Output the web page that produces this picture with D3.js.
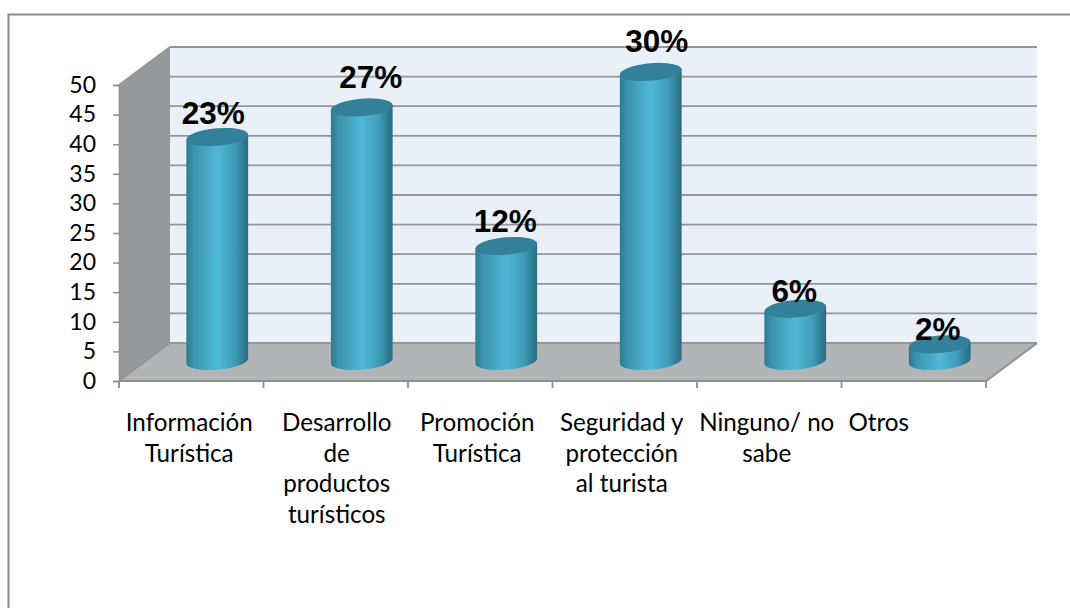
<!DOCTYPE html>
<html><head><meta charset="utf-8">
<script src="https://cdnjs.cloudflare.com/ajax/libs/d3/7.8.5/d3.min.js"></script>
<style>html,body{margin:0;padding:0;background:#fff}svg{display:block}</style>
</head><body><svg id="c" width="1070" height="608"></svg>
<script>
const categories = [["Información","Turística"],["Desarrollo","de","productos","turísticos"],["Promoción","Turística"],["Seguridad y","protección","al turista"],["Ninguno/ no","sabe"],["Otros"]];
const categoryKeys = ["a","b","c","d","e","f"];
const values = [38,43,19.6,49,9,3];
const pctLabels = ["23%","27%","12%","30%","6%","2%"];
const yTicks = [0,5,10,15,20,25,30,35,40,45,50];

const svg = d3.select("#c");
const x = d3.scaleBand().domain(categoryKeys).range([119,986]);
const y = d3.scaleLinear().domain([0,50]).range([381,85]);
const dx = 51, dy = -38, axisColor = "#8e8e8e", gridColor = "#969696";
const rx = 31, ry = 8.7, tilt = -5;

const defs = svg.append("defs");
const g = defs.append("linearGradient").attr("id","cyl");
[[0,"#2c7a90"],[0.12,"#3b94ad"],[0.5,"#50b8d6"],[0.78,"#3f9db8"],[0.93,"#2e7a91"],[1,"#2a6d83"]]
  .forEach(s=>g.append("stop").attr("offset",s[0]).attr("stop-color",s[1]));
const flt = defs.append("filter").attr("id","soft").attr("x","-5%").attr("y","-5%").attr("width","110%").attr("height","110%");
flt.append("feGaussianBlur").attr("stdDeviation",0.45);

// frame
svg.append("path").attr("d","M8.5,608V14.5H1070").attr("fill","none").attr("stroke","#8c8c8c").attr("stroke-width",2);

const [x0,x1] = x.range(), y0 = y(0), yT = y(50);
// back wall, side wall, floor
svg.append("polygon").attr("points",[[x0+dx,yT+dy],[x1+dx,yT+dy],[x1+dx,y0+dy],[x0+dx,y0+dy]].join(" ")).attr("fill","#e9f0f7");
svg.append("polygon").attr("points",[[x0,yT],[x0+dx,yT+dy],[x0+dx,y0+dy],[x0,y0]].join(" ")).attr("fill","#96999b");
svg.append("polygon").attr("points",[[x0,y0],[x0+dx,y0+dy],[x1+dx,y0+dy],[x1,y0]].join(" ")).attr("fill","#b2b5b7");

// grid
const grid = svg.append("g").attr("fill","none").attr("stroke",gridColor).attr("stroke-width",1.8);
yTicks.forEach(t=>{
  grid.append("path").attr("d",`M${x0},${y(t)}L${x0+dx},${y(t)+dy}L${x1+dx},${y(t)+dy}`);
});
svg.append("path").attr("d",`M${x1},${y0}L${x1+dx},${y0+dy}`).attr("stroke",gridColor).attr("stroke-width",2.2).attr("fill","none");

// axes
const yAxis = svg.append("g").attr("transform",`translate(${x0},0)`)
  .call(d3.axisLeft(y).tickValues(yTicks).tickSize(6).tickPadding(17));
yAxis.select(".domain").attr("stroke",axisColor).attr("stroke-width",1.5);
yAxis.selectAll("line").attr("stroke",axisColor).attr("stroke-width",1.5);
yAxis.selectAll("text").attr("font-family","Lato,sans-serif").attr("font-size",23).attr("fill","#000");

const edges = categoryKeys.map(k=>x(k)).concat([x1]);
const xAxisG = svg.append("g").attr("stroke",axisColor).attr("stroke-width",1.8).attr("fill","none");
xAxisG.append("path").attr("d",`M${x0},${y0}H${x1}`);
xAxisG.selectAll("line.t").data(edges).join("line").attr("x1",d=>d).attr("x2",d=>d).attr("y1",y0).attr("y2",y0+7);

// cylinders
const bars = svg.selectAll("g.bar").data(values).join("g").attr("class","bar").attr("filter","url(#soft)");
const cx = (i)=>x(categoryKeys[i])+x.bandwidth()/2+26;
const fy = v=>y(v)+dy/2;
const rad = tilt*Math.PI/180, ex = rx*Math.cos(rad), ey = rx*Math.sin(rad);
bars.append("path").attr("fill","url(#cyl)").attr("d",(v,i)=>{
  const c=cx(i), b=fy(0)-1, t=fy(v);
  return `M${c-ex},${t-ey}L${c-ex},${b-ey}A${rx},${ry} ${tilt} 0 0 ${c+ex},${b+ey}L${c+ex},${t+ey}Z`;
});
bars.append("ellipse").attr("rx",rx).attr("ry",ry).attr("fill","#31809a")
  .attr("transform",(v,i)=>`translate(${cx(i)},${fy(v)}) rotate(${tilt})`);

// percent labels
const pctNudgeX = [-4,9,-1,6,-1,-2];
const pctLift = [13,19,14,20,7,4];
svg.selectAll("text.pct").data(values).join("text").attr("class","pct")
  .attr("x",(v,i)=>cx(i)+pctNudgeX[i]).attr("y",(v,i)=>fy(v)-pctLift[i])
  .attr("text-anchor","middle").attr("font-family","'Liberation Sans',Arial,sans-serif")
  .attr("font-weight","bold").attr("font-size",31.5).attr("fill","#000")
  .text((v,i)=>pctLabels[i]);

// category labels
const labelNudge = [-2,1,-3,-3,-2.5,-35];
categories.forEach((lines,i)=>{
  const t = svg.append("text").attr("text-anchor","middle").attr("font-family","Lato,sans-serif").attr("font-size",24.2).attr("fill","#000");
  lines.forEach((l,j)=>t.append("tspan").attr("x",x(categoryKeys[i])+x.bandwidth()/2+labelNudge[i]).attr("y",431+j*30.5).text(l));
});
</script></body></html>
